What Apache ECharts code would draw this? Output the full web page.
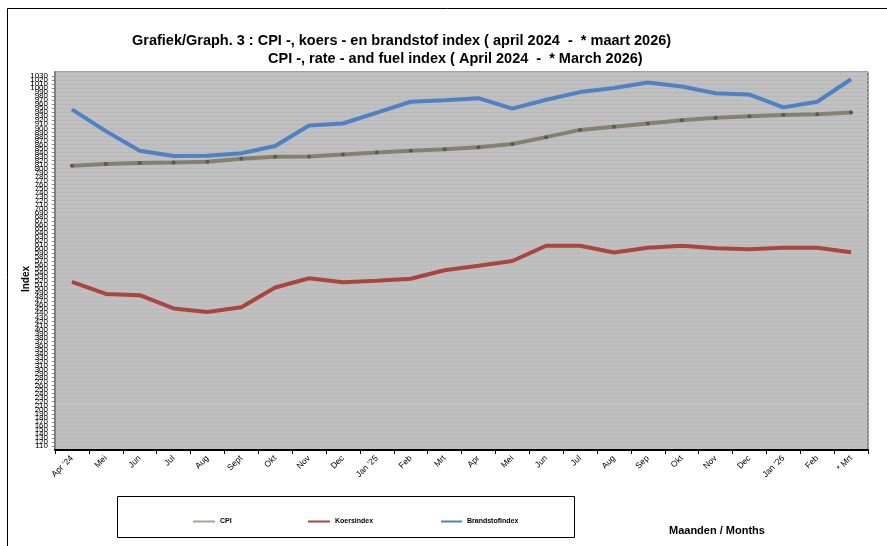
<!DOCTYPE html>
<html lang="nl" style="height: 100%">
<head>
  <meta charset="utf-8">
</head>
<body style="height: 100%; margin: 0; background: #fff">
  <div id="container" style="height: 100%"></div>

  <script type="text/javascript" src="https://fastly.jsdelivr.net/npm/echarts@6/dist/echarts.min.js"></script>

  <script type="text/javascript">
    const maanden = ["Apr '24", 'Mei', 'Jun', 'Jul', 'Aug', 'Sept', 'Okt', 'Nov', 'Dec', "Jan '25", 'Feb', 'Mrt',
      'Apr', 'Mei', 'Jun', 'Jul', 'Aug', 'Sep', 'Okt', 'Nov', 'Dec', "Jan '26", 'Feb', '* Mrt'];
    const cpi = [807, 811, 814, 815, 817, 824, 829, 830, 835, 840, 844, 848,
      853, 861, 878, 896, 904, 912, 920, 926, 930, 933, 935, 939];
    const koersindex = [518, 488, 485, 452, 443, 455, 504, 527, 517, 521, 526, 547,
      558, 570, 608, 608, 591, 603, 608, 602, 599, 603, 603, 592];
    const brandstofindex = [947, 893, 844, 831, 832, 838, 856, 907, 912, 939, 966, 970,
      975, 949, 971, 990, 1000, 1014, 1004, 987, 984, 952, 966, 1022];

    const font = 'Liberation Sans, Arial, sans-serif';

    var dom = document.getElementById('container');
    var myChart = echarts.init(dom, null, { renderer: 'canvas' });

    var legendText = { fontFamily: font, fontSize: 7, fontWeight: 'bold', color: '#000' };
    var titleText = { fontFamily: font, fontSize: 14.5, fontWeight: 'bold', color: '#000' };

    var option = {
      animation: false,
      backgroundColor: '#fff',
      title: [
        {
          text: 'Grafiek/Graph. 3 : CPI -, koers - en brandstof index ( april 2024  -  * maart 2026)',
          left: 127, top: 28,
          textStyle: titleText
        },
        {
          text: 'CPI -, rate - and fuel index ( April 2024  -  * March 2026)',
          left: 263, top: 46,
          textStyle: titleText
        },
        {
          text: 'Maanden / Months',
          left: 664, top: 520,
          textStyle: { fontFamily: font, fontSize: 11, fontWeight: 'bold', color: '#000' }
        }
      ],
      graphic: [
        {
          type: 'rect',
          shape: { x: 7.5, y: 8.5, width: 900, height: 560 },
          style: { fill: 'none', stroke: '#000', lineWidth: 1 },
          silent: true
        },
        {
          type: 'rect',
          shape: { x: 117.5, y: 496.5, width: 457, height: 41 },
          style: { fill: 'none', stroke: '#000', lineWidth: 1 },
          silent: true
        }
      ],
      legend: [
        { data: [{ name: 'CPI', itemStyle: { color: '#a8a396' } }], left: 188, top: 513, icon: 'rect', itemWidth: 22, itemHeight: 2, textStyle: legendText },
        { data: ['Koersindex'], left: 303, top: 513, icon: 'rect', itemWidth: 22, itemHeight: 2, textStyle: legendText },
        { data: ['Brandstofindex'], left: 436, top: 513, icon: 'rect', itemWidth: 21, itemHeight: 2, textStyle: legendText }
      ],
      grid: {
        left: 55, top: 72, width: 813, height: 378,
        show: true,
        backgroundColor: '#c0c0c0',
        borderColor: '#404040',
        borderWidth: 1
      },
      xAxis: {
        type: 'category',
        data: maanden,
        boundaryGap: true,
        axisLine: { lineStyle: { color: '#000', width: 2 } },
        axisTick: { show: true, length: 4, lineStyle: { color: '#000' } },
        axisLabel: { rotate: 45, fontFamily: font, fontSize: 8.5, color: '#000', margin: 7, interval: 0 },
        splitLine: { show: false }
      },
      yAxis: {
        type: 'value',
        min: 100,
        max: 1040,
        interval: 10,
        name: 'Index',
        nameLocation: 'middle',
        nameRotate: 90,
        nameGap: 24,
        nameMoveOverlap: false,
        nameTextStyle: { fontFamily: font, fontSize: 10, fontWeight: 'bold', color: '#000', padding: [0, 36, 0, 0] },
        axisLine: { show: true, lineStyle: { color: '#808080', width: 2 } },
        axisTick: { show: true, length: 3, lineStyle: { color: '#808080' } },
        axisLabel: {
          fontFamily: font, fontSize: 8, color: '#000', margin: 7,
          formatter: function (v) { return String(v); }
        },
        splitLine: { show: true, lineStyle: { color: '#b9b9b9', width: 1 } }
      },
      series: [
        {
          name: 'CPI',
          type: 'line',
          data: cpi,
          color: '#858070',
          lineStyle: { width: 4, color: '#858070' },
          symbol: 'circle',
          symbolSize: 4,
          itemStyle: { color: '#5c5947', borderWidth: 0 },
          z: 3
        },
        {
          name: 'Koersindex',
          type: 'line',
          data: koersindex,
          color: '#ab4541',
          lineStyle: { width: 4, color: '#ab4541' },
          symbol: 'none',
          z: 2
        },
        {
          name: 'Brandstofindex',
          type: 'line',
          data: brandstofindex,
          color: '#4f81c4',
          lineStyle: { width: 4, color: '#4f81c4' },
          symbol: 'none',
          z: 2
        }
      ]
    };

    myChart.setOption(option);
    window.addEventListener('resize', myChart.resize);
  </script>
</body>
</html>
